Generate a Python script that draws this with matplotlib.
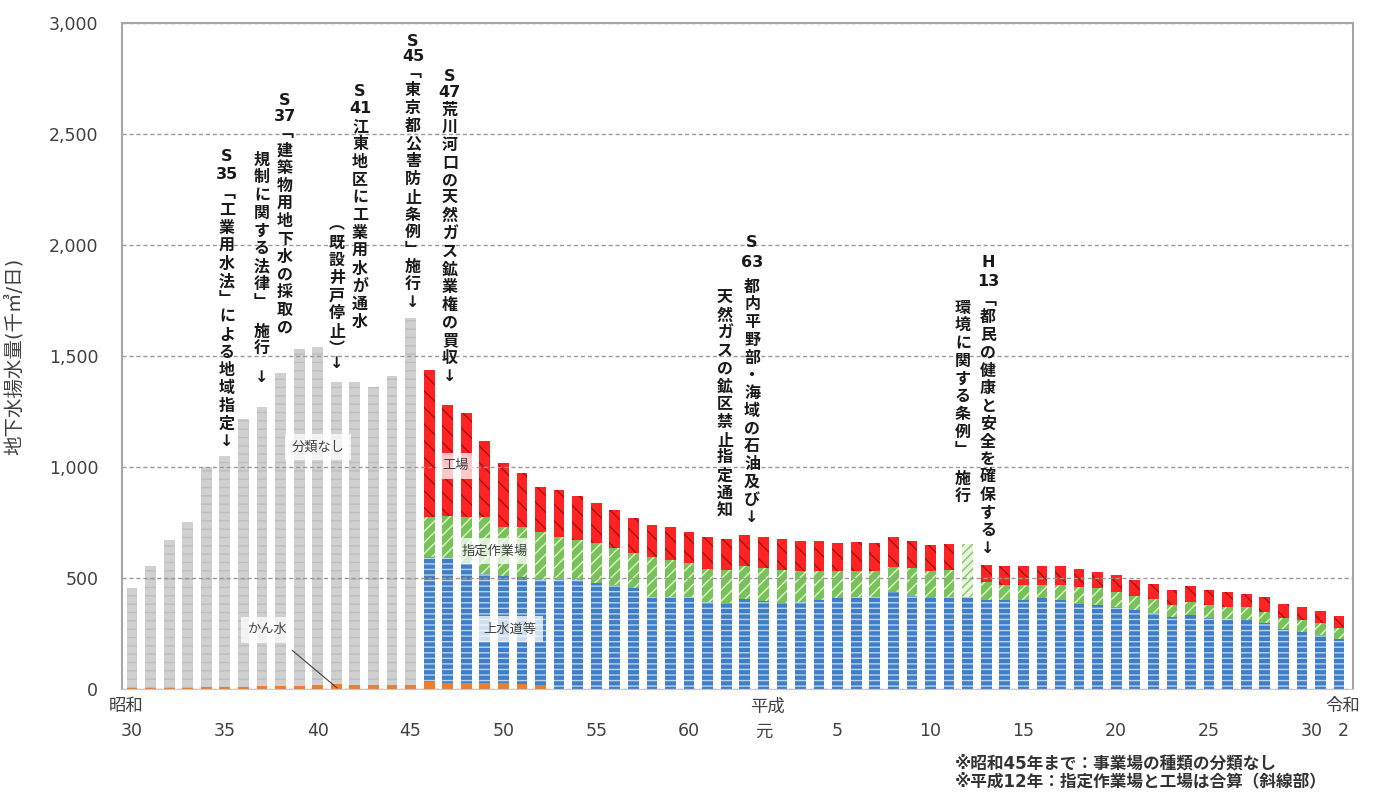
import numpy as np
import matplotlib
matplotlib.use("Agg")
import matplotlib.pyplot as plt
from matplotlib.transforms import blended_transform_factory

plt.rcParams['font.family'] = ['DejaVu Sans', 'Noto Sans CJK JP']
plt.rcParams['hatch.linewidth'] = 1.0

# 昭和30年〜令和2年 (66年分)
years = list(range(66))

# 用途別揚水量 (千m3/日)
kansui = [3, 5, 5, 5, 8, 8, 10, 12, 15, 15, 18, 22, 20, 20, 18, 18,
          30, 28, 28, 25, 25, 22, 20] + [0] * 43
bunrui_nashi = [452, 549, 666, 747, 992, 1042, 1206, 1258, 1408, 1516, 1522,
                1361, 1363, 1340, 1392, 1652] + [0] * 50
josui = [0] * 16 + [
    566, 562, 538, 495, 485, 484, 471,
    491, 491, 476, 468, 453, 416, 416, 416, 393, 386, 404,
    398, 389, 393, 401, 408, 413, 413, 438, 419, 408, 413,
    413,
    401, 401, 401, 408, 401, 386, 378, 368, 356, 341, 323, 333, 318, 314,
    311, 296, 269, 258, 243, 224]
shitei = [0] * 16 + [
    180, 190, 210, 256, 221, 225, 218,
    195, 180, 180, 166, 158, 180, 165, 150, 147, 151, 148,
    146, 147, 140, 132, 125, 120, 120, 110, 125, 125, 123,
    0,
    82, 69, 69, 62, 67, 75, 75, 70, 63, 63, 55, 60, 60, 57, 57, 52, 49, 53,
    53, 49]
kojo = [0] * 16 + [
    661, 499, 469, 343, 286, 240, 202,
    210, 200, 183, 172, 158, 143, 147, 143, 146, 139, 142,
    139, 138, 134, 134, 123, 131, 123, 135, 123, 116, 117,
    0,
    76, 84, 86, 86, 86, 78, 76, 76, 72, 67, 68, 71, 68, 67, 60, 65, 63, 57,
    57, 56]
# 平成12年は指定作業場と工場の合算
gassan = [0] * 45 + [240] + [0] * 20

tick_pos = [0, 5, 10, 15, 20, 25, 30, 34, 38, 43, 48, 53, 58, 63.5, 65.2]
tick_labels = ['30', '35', '40', '45', '50', '55', '60', '元', '5', '10',
               '15', '20', '25', '30', '2']
eras = [(-0.3, '昭和'), (34.2, '平成'), (65.2, '令和')]

fig = plt.figure(figsize=(13.75, 7.92), dpi=100)
ax = fig.add_axes([0.0887, 0.130, 0.8953, 0.841])

x = np.arange(len(years))
w = 0.58
bottom = np.zeros(len(years))
layers = [
    (kansui, '#ed7d31', None, '#ed7d31'),
    (bunrui_nashi, '#d0d0d0', '--', '#bdbdbd'),
    (josui, '#3f7fc8', '---', '#bcd3ee'),
    (shitei, '#78c25c', '///', '#e4f4c4'),
    (gassan, '#eaf5df', '////', '#86c766'),
    (kojo, '#ff2323', '\\\\', '#a51212'),
]
for vals, fc, hatch, hc in layers:
    vals = np.array(vals, dtype=float)
    ax.bar(x, vals, w, bottom=bottom, color=fc, edgecolor=hc, hatch=hatch,
           linewidth=0)
    bottom += vals

ax.set_xlim(-0.54, 65.75)
ax.set_ylim(0, 3000)
ax.set_yticks(range(0, 3001, 500))
ax.set_yticklabels([f'{v:,}' for v in range(0, 3001, 500)])
ax.set_xticks(tick_pos)
ax.set_xticklabels(tick_labels)
ax.tick_params(axis='y', length=0, pad=17, labelsize=12.5, labelcolor='#404040')
ax.tick_params(axis='x', length=0, pad=24, labelsize=12.5, labelcolor='#404040')
ax.yaxis.grid(True, linestyle=(0, (3, 2)), color='#9a9a9a', linewidth=1)
for side in ['left', 'top', 'right']:
    ax.spines[side].set_color('#a6a6a6')
    ax.spines[side].set_linewidth(1.5)
ax.spines['bottom'].set_color('#c8c8c8')

ax.set_ylabel('地下水揚水量(千㎥/日)', fontsize=14, color='#404040')
ax.yaxis.set_label_coords(-0.08, 0.5)

trans = blended_transform_factory(ax.transData, ax.transAxes)
for ex, name in eras:
    ax.text(ex, -0.026, name, transform=trans, ha='center', va='center',
            fontsize=12.5, color='#404040')

# 縦書きの注記
jp = ['DejaVu Sans', 'Noto Sans CJK JP']
step = 80


def vcol(xc, ytop, text):
    for k, ch in enumerate(text):
        ax.text(xc, ytop - k * step, ch, ha='center', va='center',
                fontsize=11.5, fontweight='bold', color='#1a1a1a',
                family=jp, zorder=5)


def head(xc, yy, s):
    ax.text(xc, yy, s, ha='center', va='center', fontsize=11.5,
            fontweight='bold', color='#1a1a1a', family=jp, zorder=5)


# S35
head(5.12, 2397, 'S')
head(5.12, 2316, '35')
vcol(5.12, 2234, '﹁工業用水法﹂による地域指定↓')
# S37
head(8.24, 2653, 'S')
head(8.24, 2577, '37')
vcol(8.24, 2505, '﹁建築物用地下水の採取の')
vcol(7.0, 2383, '規制に関する法律﹂')
vcol(7.0, 1608, '施行')
vcol(7.0, 1401, '↓')
# S41
head(12.28, 2690, 'S')
head(12.28, 2617, '41')
vcol(12.28, 2532, '江東地区に工業用水が通水')
vcol(11.04, 2090, '︵既設井戸停止︶')
vcol(11.04, 1464, '↓')
# S45
head(15.13, 2915, 'S')
head(15.13, 2847, '45')
vcol(15.13, 2775, '﹁東京都公害防止条例﹂')
vcol(15.13, 1897, '施行')
vcol(15.13, 1739, '↓')
# S47
head(17.12, 2757, 'S')
head(17.12, 2685, '47')
vcol(17.12, 2608, '荒川河口の天然ガス鉱業権の買収↓')
# S63
head(33.39, 2009, 'S')
head(33.39, 1919, '63')
vcol(33.39, 1811, '都内平野部・海域の石油及び↓')
vcol(31.93, 1761, '天然ガスの鉱区禁止指定通知')
# H13
head(46.1, 1919, 'H')
head(46.1, 1834, '13')
vcol(46.1, 1752, '﹁都民の健康と安全を確保する↓')
vcol(44.75, 1716, '環境に関する条例﹂')
vcol(44.75, 942, '施行')

# 系列名ラベル
box = dict(boxstyle='square,pad=0.5', fc='white', ec='none', alpha=0.75)
for lx, ly, s in [(10.02, 1090, '分類なし'), (17.45, 1005, '工場'),
                  (19.55, 622, '指定作業場'), (20.36, 270, '上水道等')]:
    ax.text(lx, ly, s, ha='center', va='center', fontsize=9.5,
            color='#404040', bbox=box, zorder=4)
ax.annotate('かん水', xy=(11.04, 5), xytext=(7.32, 266), ha='center',
            va='center', fontsize=9.5, color='#404040', bbox=box, zorder=4,
            arrowprops=dict(arrowstyle='-', color='#404040', lw=0.8,
                            shrinkA=8, shrinkB=0))

fig.text(0.6945, 0.036, '※昭和45年まで：事業場の種類の分類なし', ha='left',
         va='center', fontsize=12, fontweight='bold', color='#333333')
fig.text(0.6945, 0.013, '※平成12年：指定作業場と工場は合算（斜線部）',
         ha='left', va='center', fontsize=12, fontweight='bold',
         color='#333333')

fig.savefig('out.png', dpi=100)
